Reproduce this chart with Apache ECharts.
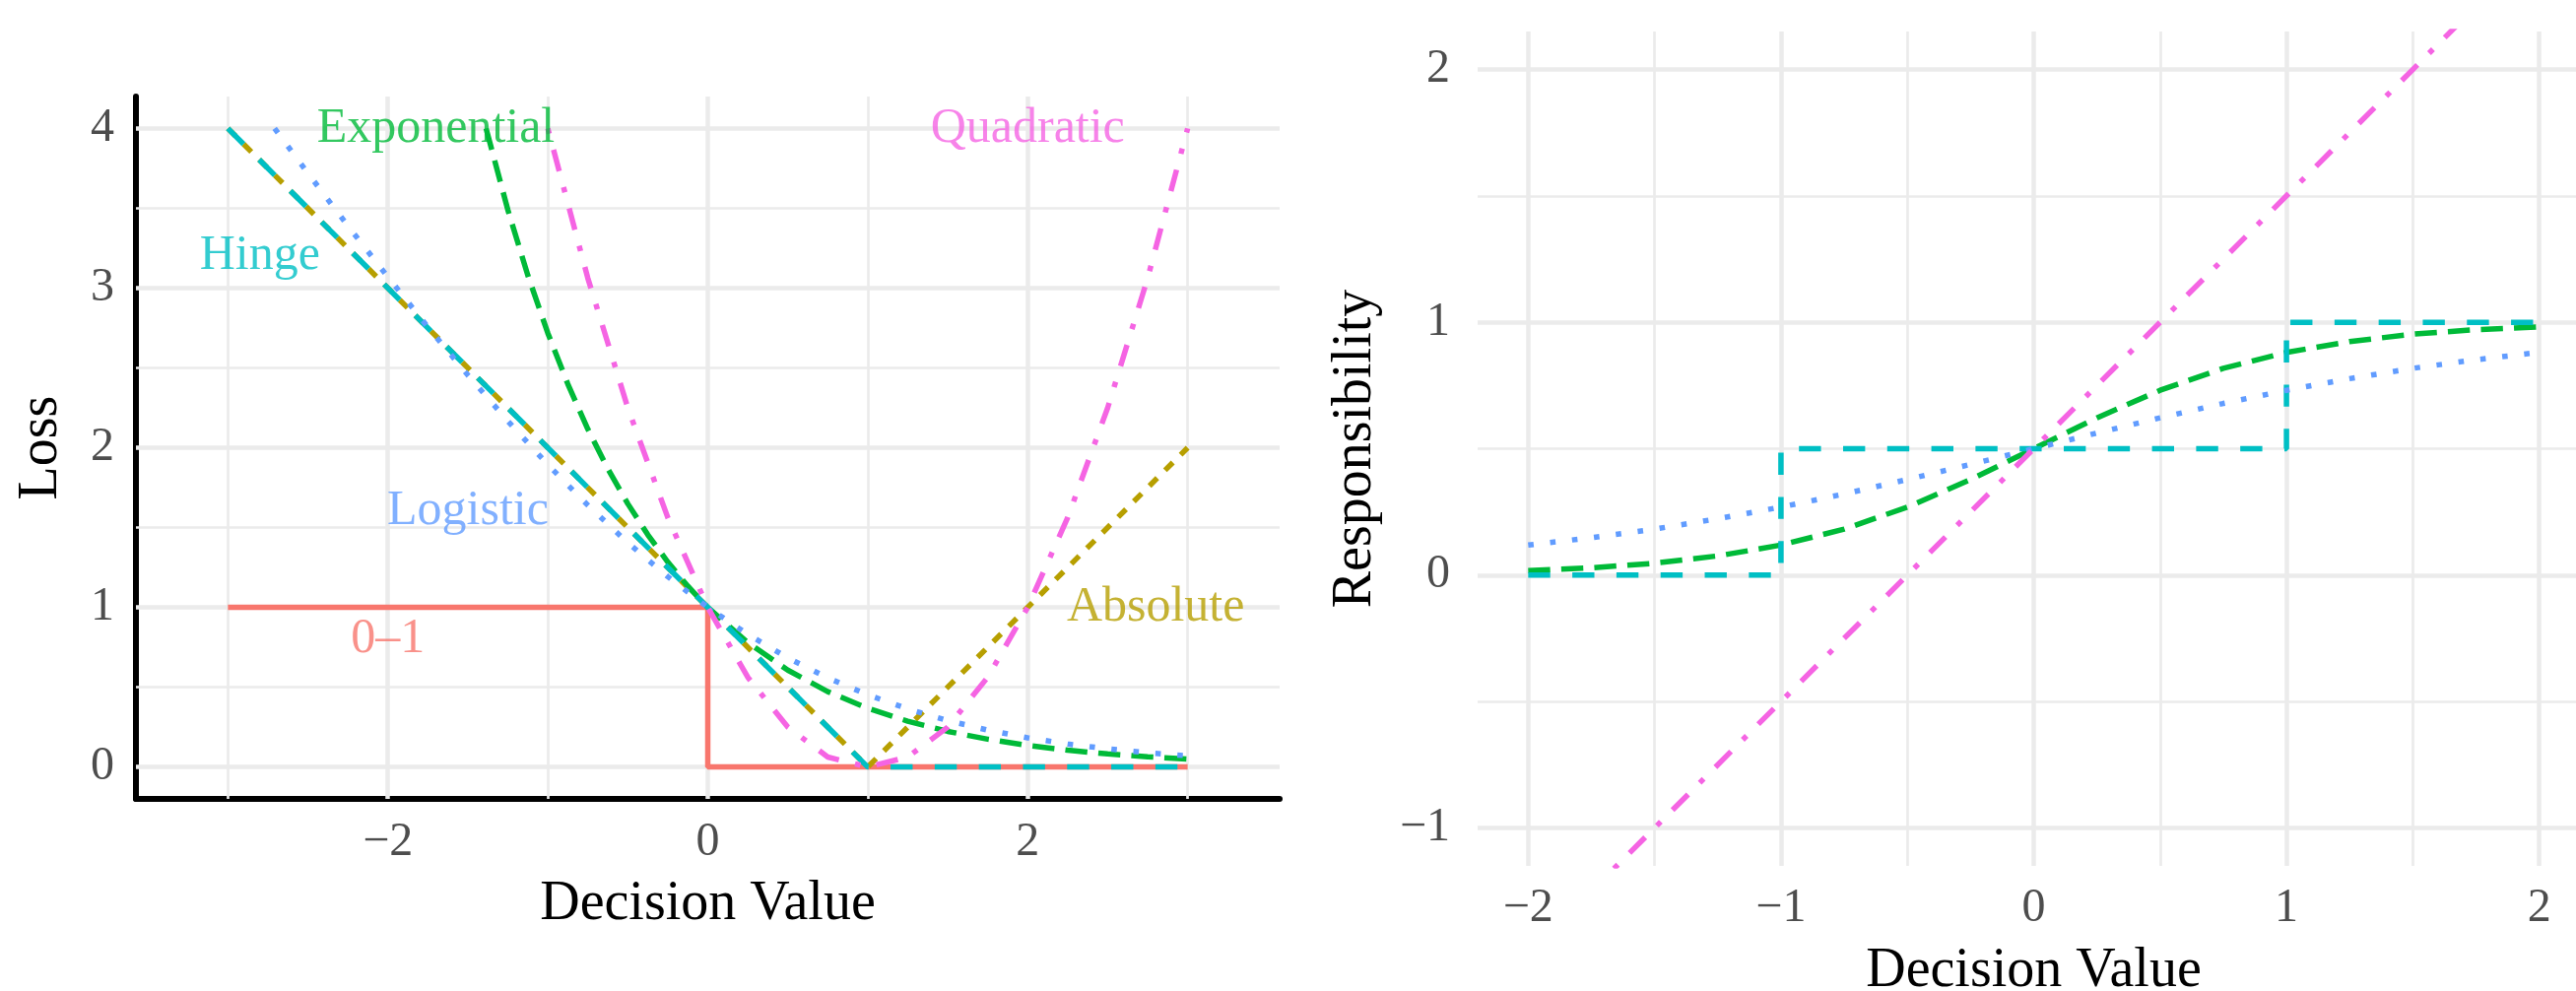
<!DOCTYPE html>
<html>
<head>
<meta charset="utf-8">
<script src="https://cdn.jsdelivr.net/npm/echarts@6/dist/echarts.min.js"></script>
<style>
  html, body { margin: 0; padding: 0; background: #fff; }
  #chart { width: 2615px; height: 1006px; }
</style>
</head>
<body>
<div id="chart"></div>
<script>
// left panel: loss curves, [decision value, loss]
const zeroOneLoss = [[-3, 1], [0, 1], [0, 0], [3, 0]];
const absoluteLoss = [[-3, 4], [1, 0], [3, 2]];
const exponentialLoss = [
  [-1.386, 4], [-1.25, 3.49], [-1.125, 3.08], [-1, 2.718], [-0.875, 2.399], [-0.75, 2.117],
  [-0.625, 1.868], [-0.5, 1.649], [-0.375, 1.455], [-0.25, 1.284], [-0.125, 1.133], [0, 1],
  [0.25, 0.779], [0.5, 0.607], [0.75, 0.472], [1, 0.368], [1.25, 0.287], [1.5, 0.223],
  [1.75, 0.174], [2, 0.135], [2.25, 0.105], [2.5, 0.082], [2.75, 0.064], [3, 0.05]
];
const hingeLoss = [[-3, 4], [1, 0], [3, 0]];
const logisticLoss = [
  [-2.708, 4], [-2.5, 3.72], [-2.25, 3.39], [-2, 3.07], [-1.75, 2.756], [-1.5, 2.455],
  [-1.25, 2.167], [-1, 1.894], [-0.75, 1.64], [-0.5, 1.405], [-0.25, 1.192], [0, 1],
  [0.25, 0.831], [0.5, 0.684], [0.75, 0.558], [1, 0.452], [1.25, 0.364], [1.5, 0.291],
  [1.75, 0.231], [2, 0.183], [2.25, 0.144], [2.5, 0.114], [2.75, 0.089], [3, 0.07]
];
const quadraticLoss = [
  [-1, 4], [-0.75, 3.0625], [-0.5, 2.25], [-0.25, 1.5625], [0, 1], [0.25, 0.5625],
  [0.5, 0.25], [0.75, 0.0625], [1, 0], [1.25, 0.0625], [1.5, 0.25], [1.75, 0.5625],
  [2, 1], [2.25, 1.5625], [2.5, 2.25], [2.75, 3.0625], [3, 4]
];

// right panel: responsibility curves
const hingeResp = [[-2, 0], [-1, 0], [-1, 0.5], [1, 0.5], [1, 1], [2, 1]];
const exponentialResp = [
  [-2, 0.018], [-1.75, 0.029], [-1.5, 0.047], [-1.25, 0.076], [-1, 0.119], [-0.75, 0.182],
  [-0.5, 0.269], [-0.25, 0.378], [0, 0.5], [0.25, 0.622], [0.5, 0.731], [0.75, 0.818],
  [1, 0.881], [1.25, 0.924], [1.5, 0.953], [1.75, 0.971], [2, 0.982]
];
const logisticResp = [
  [-2, 0.119], [-1.75, 0.148], [-1.5, 0.182], [-1.25, 0.223], [-1, 0.269], [-0.75, 0.321],
  [-0.5, 0.378], [-0.25, 0.438], [0, 0.5], [0.25, 0.562], [0.5, 0.622], [0.75, 0.679],
  [1, 0.731], [1.25, 0.777], [1.5, 0.818], [1.75, 0.852], [2, 0.881]
];
const quadraticResp = [[-2, -1.5], [2, 2.5]];

// tick values
const lossXTicks = [-2, 0, 2];
const lossXMinor = [-3, -1, 1, 3];
const lossYTicks = [0, 1, 2, 3, 4];
const lossYMinor = [0.5, 1.5, 2.5, 3.5];
const respXTicks = [-2, -1, 0, 1, 2];
const respXMinor = [-1.5, -0.5, 0.5, 1.5];
const respYTicks = [-1, 0, 1, 2];
const respYMinor = [-0.5, 0.5, 1.5];

// curve labels in left panel
const labelText = ['0–1', 'Absolute', 'Exponential', 'Hinge', 'Logistic', 'Quadratic'];
const labelX = [-2, 2.8, -1.7, -2.8, -1.5, 2];
const labelY = [0.8, 1.0, 4.0, 3.2, 1.6, 4.0];

const colors = {
  '0–1': '#F8766D', 'Absolute': '#B79F00', 'Exponential': '#00BA38',
  'Hinge': '#00BFC4', 'Logistic': '#619CFF', 'Quadratic': '#F564E3'
};
const u = 5.6; // dash unit
const dashes = {
  '0–1': 'solid', 'Absolute': [2 * u, 2 * u], 'Exponential': [4 * u, 2 * u],
  'Hinge': [4 * u, 4 * u], 'Logistic': [u, 3 * u], 'Quadratic': [u, 3 * u, 4 * u, 3 * u]
};
const font = '"Liberation Serif", "DejaVu Serif", serif';

const chart = echarts.init(document.getElementById('chart'));

function fmt(v) {
  return String(v).replace('-', '\u2212');
}

function lineSeries(name, data, idx) {
  return {
    type: 'line', name: name, data: data, xAxisIndex: idx, yAxisIndex: idx,
    symbol: 'none', showSymbol: false, silent: true, z: 3,
    lineStyle: { color: colors[name], width: 5.5, type: dashes[name], cap: 'butt' }
  };
}

// grid lines drawn as markLines on an empty series, kept under the curves
function gridSeries(idx, xMaj, xMin, yMaj, yMin) {
  const st = (w) => ({ color: '#EBEBEB', width: w, type: 'solid' });
  return {
    type: 'line', data: [], xAxisIndex: idx, yAxisIndex: idx, z: 1, silent: true,
    markLine: {
      z: 1, silent: true, symbol: ['none', 'none'], label: { show: false }, animation: false,
      emphasis: { disabled: true },
      data: [].concat(
        xMin.map(v => ({ xAxis: v, lineStyle: st(2.7) })),
        yMin.map(v => ({ yAxis: v, lineStyle: st(2.7) })),
        xMaj.map(v => ({ xAxis: v, lineStyle: st(4.5) })),
        yMaj.map(v => ({ yAxis: v, lineStyle: st(4.5) }))
      )
    }
  };
}

function valueAxis(idx, min, max, ticks, name, gap, margin, black) {
  return {
    type: 'value', gridIndex: idx, min: min, max: max,
    splitLine: { show: false }, axisTick: { show: false },
    axisLine: { show: black, onZero: false, lineStyle: { color: '#000', width: 6 } },
    axisLabel: {
      customValues: ticks, formatter: fmt, color: '#4D4D4D', fontSize: 48,
      fontFamily: font, margin: margin
    },
    name: name, nameLocation: 'middle', nameGap: gap,
    nameTextStyle: { color: '#000', fontSize: 56, fontFamily: font }
  };
}

chart.setOption({
  animation: false,
  backgroundColor: '#fff',
  grid: [
    { left: 138, top: 98, width: 1161, height: 713, outerBoundsMode: 'none' },
    { left: 1500, top: 32, width: 1129, height: 847, outerBoundsMode: 'none' }
  ],
  xAxis: [
    valueAxis(0, -3.575, 3.575, lossXTicks, 'Decision Value', 79, 20, true),
    valueAxis(1, -2.2, 2.2, respXTicks, 'Decision Value', 79, 19, false)
  ],
  yAxis: [
    valueAxis(0, -0.2, 4.2, lossYTicks, 'Loss', 68, 22, true),
    valueAxis(1, -1.15, 2.15, respYTicks, 'Responsibility', 96, 28, false)
  ],
  series: [
    gridSeries(0, lossXTicks, lossXMinor, lossYTicks, lossYMinor),
    gridSeries(1, respXTicks, respXMinor, respYTicks, respYMinor),
    lineSeries('0–1', zeroOneLoss, 0),
    lineSeries('Absolute', absoluteLoss, 0),
    lineSeries('Exponential', exponentialLoss, 0),
    lineSeries('Hinge', hingeLoss, 0),
    lineSeries('Logistic', logisticLoss, 0),
    lineSeries('Quadratic', quadraticLoss, 0),
    lineSeries('Exponential', exponentialResp, 1),
    lineSeries('Hinge', hingeResp, 1),
    lineSeries('Logistic', logisticResp, 1),
    lineSeries('Quadratic', quadraticResp, 1),
    {
      type: 'scatter', xAxisIndex: 0, yAxisIndex: 0, z: 4, silent: true,
      symbolSize: 1, itemStyle: { color: 'rgba(0,0,0,0)' },
      label: { show: true, position: 'inside', formatter: '{b}', fontSize: 50, fontFamily: font },
      data: labelText.map((t, i) => ({
        name: t, value: [labelX[i], labelY[i]], label: { color: colors[t] }
      }))
    }
  ]
});
</script>
</body>
</html>
